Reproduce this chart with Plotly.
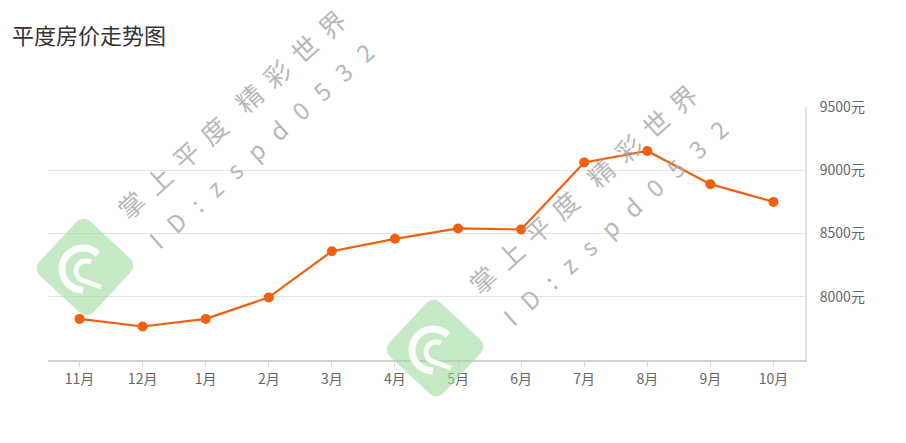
import math
import plotly.graph_objects as go

# ---- data ----
months = ["11月", "12月", "1月", "2月", "3月", "4月", "5月", "6月", "7月", "8月", "9月", "10月"]
prices = [7825, 7765, 7825, 7995, 8360, 8458, 8540, 8532, 9062, 9152, 8890, 8750]
y_ticks = [8000, 8500, 9000, 9500]
y_tick_labels = ["8000元", "8500元", "9000元", "9500元"]
title_text = "平度房价走势图"
wm_line1 = "掌\u2009 上\u2009 平\u2009 度\u2009 \u2009 精\u2009 彩\u2009 世\u2009 界"
wm_line2 = "I \u2009 D \u2009 : \u2009 z \u2009 s \u2009 p \u2009 d \u2009 0 \u2009 5 \u2009 3 \u2009 2"

# page body has an 8px margin: work in reference-pixel coordinates and shift
OFF = 8
W, H = 906 - 2 * OFF, 443 - 2 * OFF
ML, MT = 48 - OFF, 107 - OFF
MR = W - (805 - OFF)
MB = H - (360 - OFF)
PW, PH = W - ML - MR, H - MT - MB


def px(x):
    return (x - OFF - ML) / PW


def py(y):
    return 1 - (y - OFF - MT) / PH


LINE = "#f0600e"
FONT = "Noto Sans CJK SC, Microsoft YaHei, sans-serif"

fig = go.Figure()
fig.add_trace(go.Scatter(
    x=months, y=prices, mode="lines+markers",
    line=dict(color=LINE, width=2.2),
    marker=dict(color=LINE, size=10),
    hoverinfo="x+y", showlegend=False,
))


def rounded_square(cx, cy, half, r, ang, n=6):
    pts = []
    for sx, sy, a0 in [(1, 1, 0), (-1, 1, 90), (-1, -1, 180), (1, -1, 270)]:
        for k in range(n + 1):
            a = math.radians(a0 + 90 * k / n)
            pts.append((sx * (half - r) + r * math.cos(a), sy * (half - r) + r * math.sin(a)))
    t = math.radians(ang)
    out = []
    for lx, ly in pts:
        x = cx + lx * math.cos(t) - ly * math.sin(t)
        y = cy + lx * math.sin(t) + ly * math.cos(t)
        out.append((px(x), py(y)))
    return "M " + " L ".join(f"{a:.5f},{b:.5f}" for a, b in out) + " Z"


def arc_pts(cx, cy, r, a0, a1, n=30):
    pts = []
    for k in range(n + 1):
        a = math.radians(a0 + (a1 - a0) * k / n)
        pts.append((cx + r * math.cos(a), cy + r * math.sin(a)))
    return pts


def to_path(pts, close=False):
    s = "M " + " L ".join(f"{px(a):.5f},{py(b):.5f}" for a, b in pts)
    return s + (" Z" if close else "")


shapes = []
for (cx, cy) in [(85, 267), (435, 348)]:
    shapes.append(dict(type="path", xref="paper", yref="paper",
                       path=rounded_square(cx, cy, 37, 10, 43),
                       fillcolor="rgba(160,220,160,0.6)", line=dict(width=0), layer="above"))
    outer = arc_pts(cx - 2, cy + 2, 21, -45, -270)
    shapes.append(dict(type="path", xref="paper", yref="paper",
                       path=to_path(outer),
                       line=dict(color="rgba(255,255,255,0.9)", width=7), layer="above"))
    inner = arc_pts(cx + 1, cy + 4, 10, -60, -250) + [(cx + 16, cy + 20)]
    shapes.append(dict(type="path", xref="paper", yref="paper",
                       path=to_path(inner),
                       line=dict(color="rgba(255,255,255,0.9)", width=5), layer="above"))

wm_font = dict(family=FONT, color="rgba(165,165,165,0.8)")
annotations = []
for (x1, y1, x2, y2) in [(231, 114, 260, 145), (582, 188, 614, 222)]:
    annotations.append(dict(text=wm_line1, x=px(x1), y=py(y1), xref="paper", yref="paper",
                            showarrow=False, textangle=-42, xanchor="center", yanchor="middle",
                            font=dict(size=26, **wm_font)))
    annotations.append(dict(text=wm_line2, x=px(x2), y=py(y2), xref="paper", yref="paper",
                            showarrow=False, textangle=-42, xanchor="center", yanchor="middle",
                            font=dict(size=24, **wm_font)))

fig.update_layout(
    width=W, height=H,
    margin=dict(l=ML, r=MR, t=MT, b=MB, autoexpand=False),
    paper_bgcolor="white", plot_bgcolor="white",
    title=dict(text=title_text, x=(12 - OFF) / W, xanchor="left", xref="container",
               y=1 - (36 - OFF) / H, yanchor="middle", yref="container",
               font=dict(family=FONT, size=22, color="#333333")),
    xaxis=dict(type="category", range=[-0.5, 11.5], showgrid=False,
               showline=True, linecolor="#d0d0d0", linewidth=2,
               ticks="outside", ticklen=5, tickcolor="#d8d8d8", tickwidth=1,
               tickfont=dict(family=FONT, size=14, color="#666666"), fixedrange=True),
    yaxis=dict(side="right", range=[7500, 9500], tickvals=y_ticks, ticktext=y_tick_labels,
               showgrid=True, gridcolor="#e3e3e3", gridwidth=1, zeroline=False,
               showline=True, linecolor="#e3e3e3", linewidth=2,
               ticklabelstandoff=10,
               tickfont=dict(family=FONT, size=14, color="#666666"), fixedrange=True),
    shapes=shapes,
    annotations=annotations,
    hovermode="closest",
)

fig.write_html("out.html")
